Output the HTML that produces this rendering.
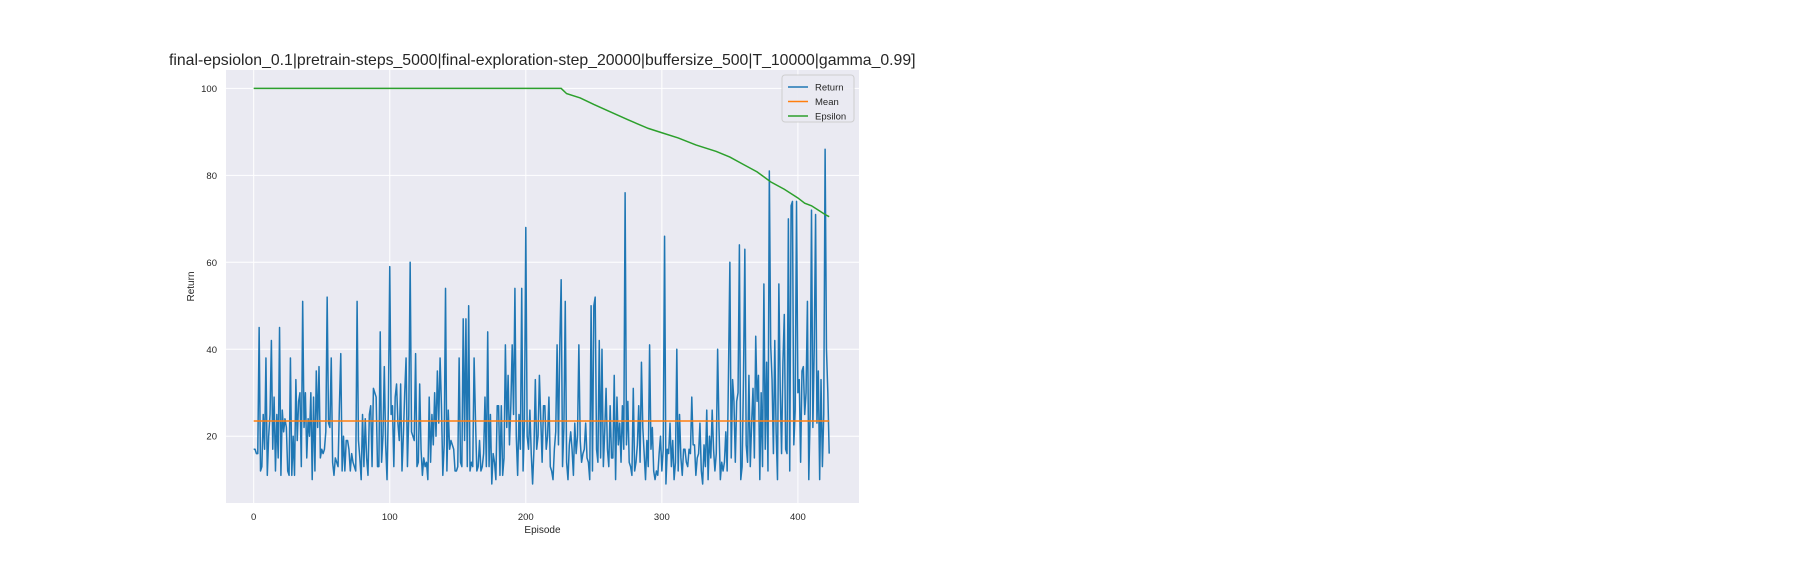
<!DOCTYPE html>
<html><head><meta charset="utf-8"><style>
html,body{margin:0;padding:0;background:#fff;}
svg{display:block;font-family:"Liberation Sans","DejaVu Sans",sans-serif;}
</style></head><body>
<svg id="chart" width="1800" height="576" viewBox="0 0 1800 576" xmlns="http://www.w3.org/2000/svg"></svg>
<script>
const returns = [17,17,16,16,45,12,13,25,17,38,11,20,25,42,17,29,12,25,15,45,
11,26,21,24,22,12,11,38,11,20,11,33,19,28,30,13,51,22,30,15,
24,20,30,10,29,12,35,22,36,15,17,16,17,21,52,23,22,38,14,11,
15,14,13,27,39,12,20,12,19,19,17,12,16,14,13,12,51,19,15,10,
25,13,24,15,11,25,27,13,31,30,29,13,13,44,14,20,36,18,10,27,
59,25,27,13,29,32,23,19,32,12,20,30,38,13,25,60,21,20,19,39,
13,14,32,17,11,15,13,14,10,29,14,25,18,30,20,35,23,38,27,11,
18,54,12,26,17,19,18,17,12,12,13,38,14,13,47,19,47,13,50,12,
14,13,38,24,12,13,19,12,13,16,29,13,44,13,25,9,16,14,10,27,
27,11,27,11,15,41,22,34,18,27,41,25,54,20,11,25,17,54,12,23,
68,20,17,26,16,9,17,33,17,20,34,24,14,27,27,17,20,29,13,12,
10,17,21,41,18,41,56,13,22,51,14,10,18,21,17,11,23,16,20,41,
19,14,16,17,23,15,14,10,50,12,50,52,17,14,42,15,40,13,21,31,
17,13,27,15,15,34,10,29,18,23,14,27,17,76,18,28,14,13,11,31,
12,14,18,27,14,37,22,16,10,19,13,41,17,22,12,10,12,11,16,20,
12,17,66,9,17,16,23,13,19,10,14,40,12,25,15,11,17,17,14,13,
17,16,29,18,18,11,15,16,23,12,9,18,13,26,10,20,15,26,17,12,
16,40,22,10,14,12,14,21,12,35,60,15,33,28,14,28,30,64,10,13,
33,63,18,14,34,13,23,31,15,43,28,34,10,30,13,55,17,37,12,81,
41,33,16,42,21,10,55,31,16,37,48,17,16,70,12,73,74,18,26,74,
30,33,14,35,36,25,30,51,10,25,72,22,40,71,23,35,10,33,13,25,86,40,30,16];
const meanValue = 23.5;
const epsEpisodes = [0,226,230,240,250,260,275,290,300,312,325,340,350,360,370,380,390,400,405,410,415,420,423];
const epsValues =   [100,100,98.8,97.8,96.3,94.9,92.8,90.8,89.8,88.6,87.0,85.5,84.2,82.5,80.8,78.5,76.8,74.8,73.6,73.0,72.0,71.0,70.5];
const xTicks = [0,100,200,300,400];
const yTicks = [20,40,60,80,100];
const legendLabels = ["Return","Mean","Epsilon"];

const NS="http://www.w3.org/2000/svg";
const svg=document.getElementById('chart');
const L=226,R=859,T=70,B=503;
const x=v=>253.7+(v-0)*(797.9-253.7)/400;
const y=v=>436.2-(v-20)*(436.2-88.4)/80;
function mk(tag,attrs,parent){const e=document.createElementNS(NS,tag);for(const k in attrs)e.setAttribute(k,attrs[k]);(parent||svg).appendChild(e);return e;}

let e=mk('rect',{x:L,y:T,width:R-L,height:B-T,fill:'#eaeaf2'});



xTicks.forEach(t=>{
  let g=mk('line',{x1:x(t),x2:x(t),y1:T,y2:B,stroke:'#fff','stroke-width':1});
  
  
  let l=mk('text',{x:x(t),y:B+17,'text-anchor':'middle','font-size':9.5,fill:'#262626'});
  l.textContent=t;
  
  
});
yTicks.forEach(t=>{
  let g=mk('line',{x1:L,x2:R,y1:y(t),y2:y(t),stroke:'#fff','stroke-width':1});
  
  
  let l=mk('text',{x:L-9,y:y(t)+3.5,'text-anchor':'end','font-size':9.5,fill:'#262626'});
  l.textContent=t;
  
  
});

let p=mk('polyline',{points:returns.map((v,i)=>x(i)+','+y(v)).join(' '),fill:'none',stroke:'#1f77b4','stroke-width':1.5,'stroke-linejoin':'round'});


let m=mk('line',{x1:x(0),x2:x(returns.length-1),y1:y(meanValue),y2:y(meanValue),stroke:'#ff7f0e','stroke-width':1.5});


let ep=mk('polyline',{points:epsEpisodes.map((v,i)=>x(v)+','+y(epsValues[i])).join(' '),fill:'none',stroke:'#2ca02c','stroke-width':1.5});



let lg=mk('g',{});


mk('rect',{x:782,y:75,width:72,height:47,rx:3,fill:'#eaeaf2',stroke:'#cccccc','stroke-width':1,opacity:0.9},lg);
const cols=['#1f77b4','#ff7f0e','#2ca02c'];
legendLabels.forEach((s,i)=>{
  const yy=87+i*14.5;
  let ln=mk('line',{x1:788,x2:808,y1:yy,y2:yy,stroke:cols[i],'stroke-width':1.5},lg);
  
  
  let t=mk('text',{x:815,y:yy+3.5,'font-size':9.5,fill:'#262626'},lg);
  t.textContent=s;
  
  
});

let tt=mk('text',{x:169,y:65,'font-size':15.8,fill:'#262626'});
tt.textContent='final-epsiolon_0.1|pretrain-steps_5000|final-exploration-step_20000|buffersize_500|T_10000|gamma_0.99]';


let xl=mk('text',{x:(L+R)/2,y:533,'text-anchor':'middle','font-size':10,fill:'#262626'});
xl.textContent='Episode';


let yl=mk('text',{x:0,y:0,'text-anchor':'middle','font-size':10,fill:'#262626',transform:'translate(194,'+((T+B)/2)+') rotate(-90)'});
yl.textContent='Return';


</script>
</body></html>
